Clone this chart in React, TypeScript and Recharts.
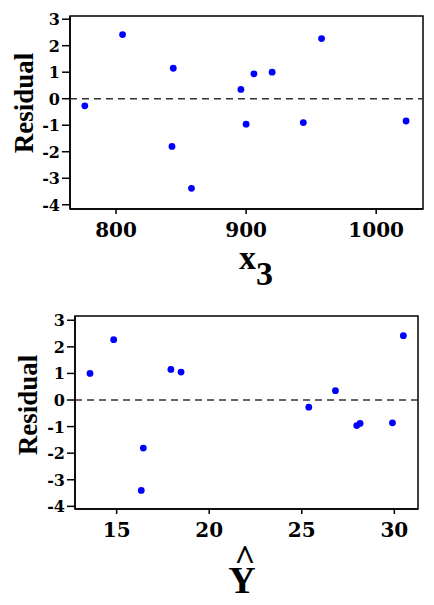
import { ScatterChart, Scatter, XAxis, YAxis, ReferenceLine, ReferenceArea } from 'recharts'

// residuals vs x3
const x3Values = [776, 805, 844, 843, 858, 896, 900, 906, 920, 944, 958, 1023]
const x3Residuals = [-0.27, 2.42, 1.15, -1.8, -3.38, 0.35, -0.96, 0.94, 1.0, -0.9, 2.27, -0.84]

// residuals vs fitted values
const fittedValues = [13.56, 14.84, 17.93, 18.48, 16.44, 16.33, 25.38, 26.82, 27.97, 28.15, 29.9, 30.49]
const fittedResiduals = [1.0, 2.27, 1.15, 1.05, -1.81, -3.4, -0.27, 0.35, -0.96, -0.88, -0.86, 2.42]

const residualTicks = [-4, -3, -2, -1, 0, 1, 2, 3]
const x3Ticks = [800, 900, 1000]
const fittedTicks = [15, 20, 25, 30]

const FONT = '"Liberation Serif", "Times New Roman", serif'
const TICK_FONT = '"DejaVu Serif", serif'

const toPoints = (xs: number[], ys: number[]) => xs.map((x, i) => ({ x, y: ys[i] }))

const Dot = (props: any) => <circle cx={props.cx} cy={props.cy} r={3.4} fill="#0000ff" />

// bold serif tick labels, drawn at the spot recharts hands us
const XTick = (props: any) => (
  <text
    x={props.x}
    y={props.y}
    dy={15}
    textAnchor="middle"
    fontFamily={TICK_FONT}
    fontWeight="bold"
    fontSize={20}
    fill="#000"
  >
    {props.payload.value}
  </text>
)

const YTick = (props: any) => (
  <text
    x={props.x}
    y={props.y}
    dy={6}
    textAnchor="end"
    fontFamily={TICK_FONT}
    fontWeight="bold"
    fontSize={16}
    fill="#000"
  >
    {props.payload.value}
  </text>
)

function YLabel({ baselineX, centerY }: { baselineX: number; centerY: number }) {
  return (
    <text
      transform={`translate(${baselineX},${centerY}) rotate(-90)`}
      textAnchor="middle"
      fontFamily={FONT}
      fontWeight="bold"
      fontSize={27}
      fill="#000"
    >
      Residual
    </text>
  )
}

interface ResidualPlotProps {
  xs: number[]
  ys: number[]
  xTicks: number[]
  xDomain: [number, number]
  yDomain: [number, number]
  height: number
  margin: { top: number; right: number; left: number; bottom: number }
  yAxisWidth: number
  xAxisHeight: number
  yLabelPos: { baselineX: number; centerY: number }
  xLabel: React.ReactNode
}

function ResidualPlot(p: ResidualPlotProps) {
  const data = toPoints(p.xs, p.ys)
  return (
    <ScatterChart width={434} height={p.height} margin={p.margin}>
      <XAxis
        type="number"
        dataKey="x"
        domain={p.xDomain}
        ticks={p.xTicks}
        allowDataOverflow
        height={p.xAxisHeight}
        tick={<XTick />}
        tickSize={5}
        tickMargin={8}
        stroke="#000"
        strokeWidth={1.5}
        label={{ content: () => p.xLabel }}
      />
      <YAxis
        type="number"
        dataKey="y"
        domain={p.yDomain}
        ticks={residualTicks}
        allowDataOverflow
        width={p.yAxisWidth}
        tick={<YTick />}
        tickSize={8}
        tickMargin={2}
        stroke="#000"
        strokeWidth={1.5}
        label={{ content: () => <YLabel {...p.yLabelPos} /> }}
      />
      <ReferenceArea
        x1={p.xDomain[0]}
        x2={p.xDomain[1]}
        y1={p.yDomain[0]}
        y2={p.yDomain[1]}
        fill="none"
        fillOpacity={0}
        stroke="#000"
        strokeWidth={1.5}
        strokeOpacity={1}
      />
      <ReferenceLine y={0} stroke="#333" strokeWidth={1.5} strokeDasharray="7 5" />
      <Scatter data={data} shape={Dot} isAnimationActive={false} />
    </ScatterChart>
  )
}

export default function App() {
  return (
    <div style={{ position: 'absolute', left: 0, top: 0, width: 434, height: 605, background: '#fff' }}>
      <ResidualPlot
        xs={x3Values}
        ys={x3Residuals}
        xTicks={x3Ticks}
        xDomain={[764.6, 1036]}
        yDomain={[-4.16, 3.12]}
        height={300}
        margin={{ top: 16, right: 11, left: 0, bottom: 0 }}
        yAxisWidth={70}
        xAxisHeight={91}
        yLabelPos={{ baselineX: 33, centerY: 103 }}
        xLabel={
          <text x={239} y={269} fontFamily={FONT} fontWeight="bold" fontSize={34} fill="#000">
            x
            <tspan dy={16}>3</tspan>
          </text>
        }
      />
      <ResidualPlot
        xs={fittedValues}
        ys={fittedResiduals}
        xTicks={fittedTicks}
        xDomain={[12.75, 31.28]}
        yDomain={[-4.1, 3.16]}
        height={305}
        margin={{ top: 16, right: 16, left: 0, bottom: 0 }}
        yAxisWidth={75}
        xAxisHeight={96}
        yLabelPos={{ baselineX: 37, centerY: 105 }}
        xLabel={
          <g fontFamily={FONT} fontWeight="bold" fill="#000">
            <text x={245} y={270} textAnchor="middle" fontSize={36}>^</text>
            <text x={242} y={293} textAnchor="middle" fontSize={38}>Y</text>
          </g>
        }
      />
    </div>
  )
}
